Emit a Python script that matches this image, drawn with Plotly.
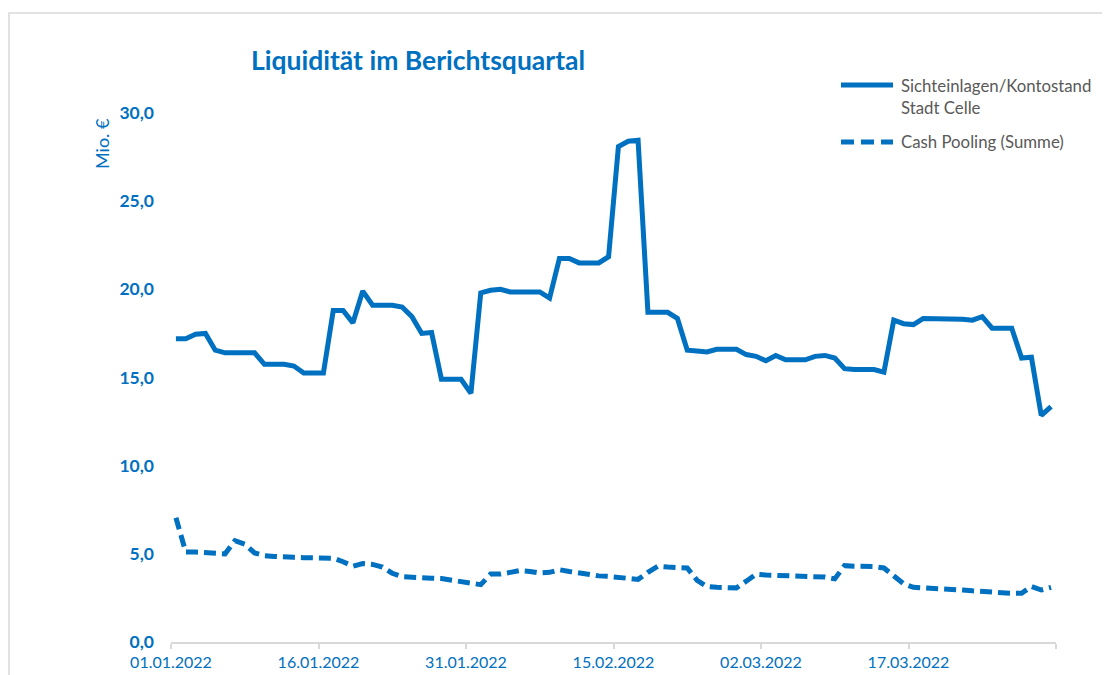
import pandas as pd
import plotly.graph_objects as go

# ---- data -------------------------------------------------------------
start_date = "2022-01-01"
end_date = "2022-03-31"

sichteinlagen = [
    17.2, 17.2, 17.45, 17.5, 16.55, 16.4, 16.4, 16.4, 16.4, 15.75,
    15.75, 15.75, 15.65, 15.25, 15.25, 15.25, 18.8, 18.8, 18.1, 19.9,
    19.1, 19.1, 19.1, 19.0, 18.45, 17.5, 17.55, 14.9, 14.9, 14.9,
    14.1, 19.8, 19.95, 20.0, 19.85, 19.85, 19.85, 19.85, 19.5, 21.75,
    21.75, 21.5, 21.5, 21.5, 21.85, 28.1, 28.4, 28.45, 18.7, 18.7,
    18.7, 18.35, 16.55, 16.5, 16.45, 16.6, 16.6, 16.6, 16.3, 16.2,
    15.95, 16.25, 16.0, 16.0, 16.0, 16.2, 16.25, 16.1, 15.5, 15.45,
    15.45, 15.45, 15.3, 18.25, 18.05, 18.0, 18.35, 18.35, 18.35, 18.35,
    18.3, 18.25, 18.45, 17.8, 17.8, 17.8, 16.1, 16.15, 12.85, 13.35,
]

cash_pooling = [
    7.05, 5.1, 5.1, 5.05, 5.0, 5.0, 5.75, 5.55, 5.05, 4.9,
    4.85, 4.8, 4.8, 4.78, 4.78, 4.78, 4.75, 4.55, 4.3, 4.45,
    4.4, 4.25, 3.9, 3.7, 3.65, 3.65, 3.62, 3.6, 3.5, 3.4,
    3.3, 3.25, 3.85, 3.85, 3.95, 4.05, 4.0, 3.92, 3.95, 4.1,
    4.0, 3.9, 3.8, 3.75, 3.72, 3.68, 3.62, 3.55, 3.95, 4.3,
    4.25, 4.22, 4.2, 3.5, 3.15, 3.1, 3.08, 3.07, 3.45, 3.85,
    3.8, 3.77, 3.75, 3.74, 3.73, 3.72, 3.68, 3.58, 4.33, 4.3,
    4.3, 4.28, 4.2, 3.75, 3.3, 3.1, 3.08, 3.05, 3.02, 3.0,
    2.95, 2.9, 2.85, 2.8, 2.78, 2.76, 2.76, 3.15, 2.95, 3.1,
]

tick_dates = ["2022-01-01", "2022-01-16", "2022-01-31", "2022-02-15",
              "2022-03-02", "2022-03-17", "2022-04-01"]
tick_labels = ["01.01.2022", "16.01.2022", "31.01.2022", "15.02.2022",
               "02.03.2022", "17.03.2022", ""]
y_ticks = [0, 5, 10, 15, 20, 25, 30]

series_names = ["Sichteinlagen/Kontostand", "Stadt Celle", "Cash Pooling (Summe)"]
title_text = "Liquidität im Berichtsquartal"
y_title = "Mio. €"

# ---- styling ----------------------------------------------------------
W, H = 1110, 675
OFF = 8  # page body margin of the browser
# plot area in screen pixels: x 171..1056, y 113..642
PL, PR, PT, PB = 171, 1056, 113, 642
L = PL - OFF
R = W - (PR - OFF)
T = PT - OFF
B = H - (PB - OFF)
BLUE = "#0070C0"
GREY_TXT = "#595959"
FONT = "Lato"

# points sit in the middle of each day's slot
days = pd.date_range(start_date, end_date, freq="D") + pd.Timedelta(hours=12)

def px_x(p):
    return (p - PL) / (PR - PL)

def px_y(p):
    return (PB - p) / (PB - PT)

fig = go.Figure()
fig.add_trace(go.Scatter(x=days, y=sichteinlagen, mode="lines",
                         name=series_names[0] + " " + series_names[1],
                         line=dict(color=BLUE, width=5), showlegend=False))
fig.add_trace(go.Scatter(x=days, y=cash_pooling, mode="lines",
                         name=series_names[2],
                         line=dict(color=BLUE, width=5, dash="12px,6px"),
                         showlegend=False))

fig.update_layout(
    width=W, height=H,
    margin=dict(l=L, r=R, t=T, b=B, pad=0, autoexpand=False),
    paper_bgcolor="white", plot_bgcolor="white",
    separators=",.",
    font=dict(family=FONT, color=BLUE),
    xaxis=dict(
        type="date", automargin=False,
        range=[start_date, "2022-04-01"],
        tickvals=tick_dates, ticktext=tick_labels,
        showgrid=False, zeroline=False,
        showline=True, linecolor="#D9D9D9", linewidth=1.5,
        ticks="outside", ticklen=5, tickcolor="#D9D9D9", tickwidth=1.5,
        tickfont=dict(family=FONT, size=16, color=BLUE),
    ),
    yaxis=dict(
        range=[0, 30], automargin=False,
        tickvals=y_ticks, tickformat=".1f",
        showgrid=False, zeroline=False, showline=False, ticks="",
        ticklabelstandoff=16,
        tickfont=dict(family=FONT, size=17.5, color=BLUE, weight="bold"),
    ),
)

annotations = [
    dict(text="<b>" + title_text + "</b>", x=px_x(418), y=px_y(60),
         xanchor="center", yanchor="middle",
         font=dict(family=FONT, size=26.5, color=BLUE)),
    dict(text=y_title, x=px_x(102), y=px_y(144), textangle=-90,
         xanchor="center", yanchor="middle",
         font=dict(family=FONT, size=18, color=BLUE)),
    dict(text=series_names[0], x=px_x(899), y=px_y(86),
         xanchor="left", yanchor="middle",
         font=dict(family=FONT, size=16.8, color=GREY_TXT)),
    dict(text=series_names[1], x=px_x(899), y=px_y(108),
         xanchor="left", yanchor="middle",
         font=dict(family=FONT, size=16.8, color=GREY_TXT)),
    dict(text=series_names[2], x=px_x(899), y=px_y(142),
         xanchor="left", yanchor="middle",
         font=dict(family=FONT, size=16.8, color=GREY_TXT)),
]
for a in annotations:
    a.update(xref="paper", yref="paper", showarrow=False)
fig.update_layout(annotations=annotations)

shapes = [
    # chart-area frame
    dict(type="rect", x0=px_x(9), x1=px_x(1104), y0=px_y(720), y1=px_y(13),
         line=dict(color="#D9D9D9", width=1.5), fillcolor="rgba(0,0,0,0)"),
    # legend samples
    dict(type="line", x0=px_x(841), x1=px_x(893), y0=px_y(85), y1=px_y(85),
         line=dict(color=BLUE, width=5)),
    dict(type="line", x0=px_x(841), x1=px_x(893), y0=px_y(142), y1=px_y(142),
         line=dict(color=BLUE, width=5, dash="13px,7px")),
]
for s in shapes:
    s.update(xref="paper", yref="paper", layer="above")
fig.update_layout(shapes=shapes)

fig.write_html("out.html")
